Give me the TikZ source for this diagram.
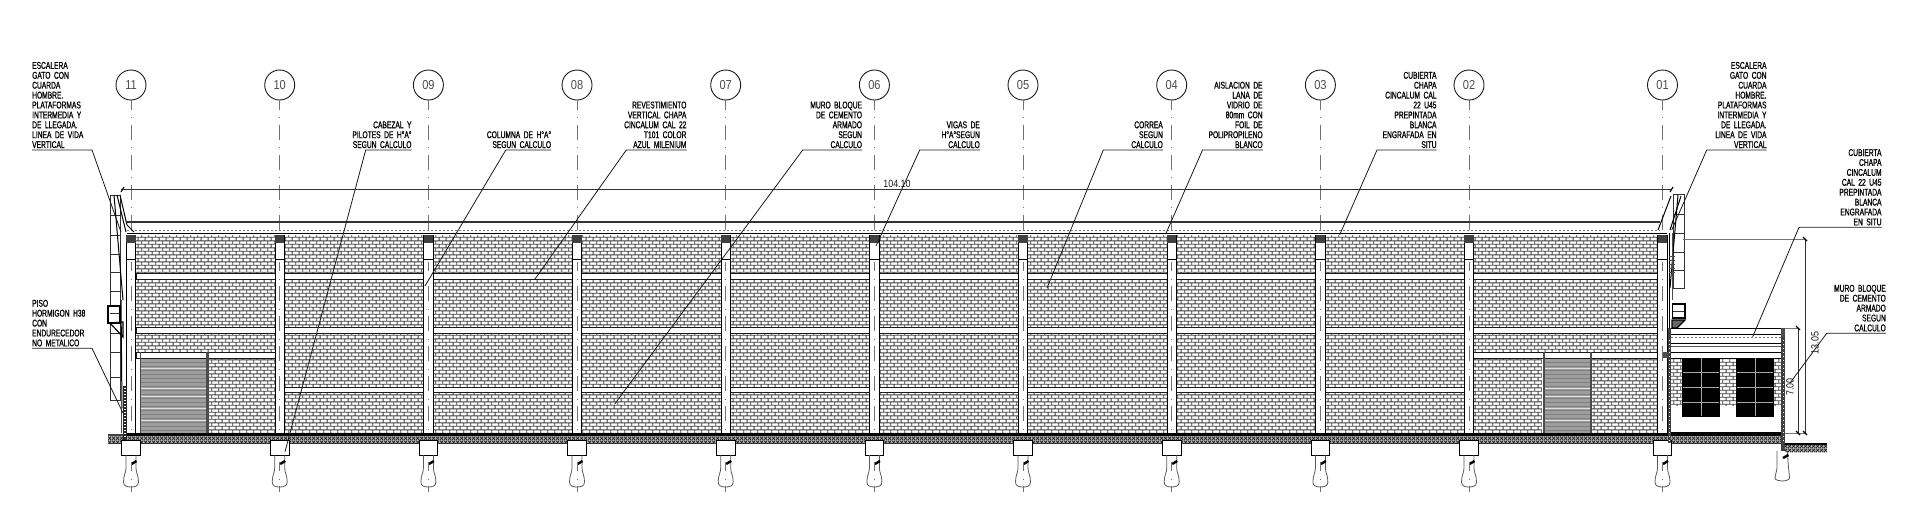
\documentclass[tikz,border=0pt]{standalone}
\usepackage{fontspec}
\usetikzlibrary{patterns}
\newfontfamily\notefont[FakeStretch=0.68,WordSpace=1.9,FakeBold=0.9]{Liberation Sans}
\newfontfamily\axisfont[FakeStretch=0.85]{Liberation Sans}
\pgfdeclarepatternformonly{brickwall}{\pgfpointorigin}{\pgfqpoint{7.4pt}{7.4pt}}{\pgfqpoint{7.4pt}{7.4pt}}{
  \pgfsetlinewidth{0.95pt}
  \pgfpathmoveto{\pgfqpoint{0pt}{1.85pt}}\pgfpathlineto{\pgfqpoint{7.4pt}{1.85pt}}
  \pgfpathmoveto{\pgfqpoint{0pt}{5.55pt}}\pgfpathlineto{\pgfqpoint{7.4pt}{5.55pt}}
  \pgfpathmoveto{\pgfqpoint{1.85pt}{1.85pt}}\pgfpathlineto{\pgfqpoint{1.85pt}{5.55pt}}
  \pgfpathmoveto{\pgfqpoint{5.55pt}{5.55pt}}\pgfpathlineto{\pgfqpoint{5.55pt}{7.4pt}}
  \pgfpathmoveto{\pgfqpoint{5.55pt}{0pt}}\pgfpathlineto{\pgfqpoint{5.55pt}{1.85pt}}
  \pgfusepath{stroke}
}
\pgfdeclarepatternformonly{soilhatch}{\pgfpointorigin}{\pgfqpoint{4pt}{4pt}}{\pgfqpoint{4pt}{4pt}}{
  \pgfsetlinewidth{0.9pt}
  \pgfpathmoveto{\pgfqpoint{0pt}{0pt}}\pgfpathlineto{\pgfqpoint{4pt}{4pt}}
  \pgfpathmoveto{\pgfqpoint{0pt}{4pt}}\pgfpathlineto{\pgfqpoint{4pt}{0pt}}
  \pgfusepath{stroke}
}
\begin{document}
\begin{tikzpicture}[
            x=1pt, y=-1pt,
            axisnum/.style = {shape=circle, draw=black!90, line width=0.9pt, minimum size=30pt, inner sep=0pt, text=black!70, font=\axisfont\fontsize{13}{13}\selectfont},
            axisline/.style = {draw=black!55, line width=0.85pt, dash pattern=on 15pt off 7.5pt on 0.7pt off 6.8pt, dash phase=5.7pt},
            noteR/.style = {align=right, anchor=south east, inner sep=0pt, font=\notefont\fontsize{9.8}{9.9}\selectfont},
            noteL/.style = {align=left, anchor=south west, inner sep=0pt, font=\notefont\fontsize{9.8}{9.9}\selectfont},
            leader/.style = {draw=black!90, line width=0.8pt},
            dimline/.style = {draw=black!80, line width=0.85pt},
            dimtick/.style = {draw=black, line width=1.1pt},
            dimtext/.style = {inner sep=0pt, text=black!90, font=\axisfont\fontsize{10.5}{10.5}\selectfont},
            band/.style = {fill=white, draw=black!90, line width=1pt},
            cage/.style = {draw=black!80, line width=0.75pt},
            rail/.style = {draw=black, line width=1pt},
            pileline/.style = {draw=black!65, line width=0.8pt}
          ]
          \useasboundingbox (0,0) rectangle (1920,523);

          \path[pattern=brickwall, pattern color=black!75] (136,235) rectangle (1658,433);
          \draw[band] (136,273) rectangle (1658,279);
          \draw[band] (136,327) rectangle (1658,333);
          \draw[band] (284,387) rectangle (1465,392);
          \draw[band] (136,352) rectangle (275,358.5);
          \draw[band] (1473,352) rectangle (1658,358.5);

          \fill[white] (136,358.5) rectangle (141,433);
          \fill[black!38] (141,358.5) rectangle (206,433);
          \foreach \y in {362,366,370,374,378,382,386,390,394,398,402,406,410,414,418,422,426,430}
            \draw[black!50, line width=0.6pt] (141,\y) -- (206,\y);
          \foreach \y in {368,388,396,408,420}
            \draw[black!12, line width=0.7pt] (141,\y) -- (206,\y);
          \fill[black!70] (139.5,352) rectangle (141,433);
          \fill[black!70] (206,352) rectangle (208.5,433);

          \fill[white] (1542,358.5) rectangle (1590,433);
          \fill[black!38] (1544,358.5) rectangle (1589.5,433);
          \foreach \y in {362,366,370,374,378,382,386,390,394,398,402,406,410,414,418,422,426,430}
            \draw[black!50, line width=0.6pt] (1544,\y) -- (1589.5,\y);
          \foreach \y in {368,388,396,408,420}
            \draw[black!12, line width=0.7pt] (1544,\y) -- (1589.5,\y);
          \fill[black!70] (1589.5,352) rectangle (1592,433);
          \fill[black!70] (1543,352) rectangle (1544.5,433);

          \fill[black!30] (108,435) rectangle (1782,443);
          \path[pattern=soilhatch, pattern color=black!85] (108,435) rectangle (1782,443);
          \fill[black] (123,432.8) rectangle (1782,435.5);
          \draw[black!80, line width=0.8pt] (108,443) -- (1782,443);
          \fill[black!75] (108,434) rectangle (123,436);

          \foreach \x/\n in {131/11, 279.7/10, 428.4/09, 577/08, 725.7/07, 874.4/06, 1023/05, 1171.7/04, 1320.4/03, 1469/02, 1662.5/01} {
            \fill[white] (\x-4.6,235) rectangle (\x+4.6,433);
            \draw[black, line width=1pt] (\x-4.6,235) -- (\x-4.6,433);
            \draw[black, line width=1pt] (\x+4.6,235) -- (\x+4.6,433);
            \fill[black!75] (\x-4.6,235) rectangle (\x+4.6,243);
            \draw[black, line width=0.9pt] (\x-4.6,259) -- (\x+4.6,259);
            \node[axisnum] (c\n) at (\x,85) {\n};
            \coordinate (a\n) at (\x,230);
            \draw[axisline] (c\n) -- (a\n);
            \draw[axisline] (\x,262) -- (\x,432);
            \draw[black, line width=1pt, fill=white] (\x-9.3,440) rectangle (\x+9.3,455);
            \draw[pileline] (\x-5,455) -- (\x-5,468) .. controls (\x-5,473) and (\x-7.5,475) .. (\x-7.5,482) .. controls (\x-7.5,486) and (\x-4,487) .. (\x,487) .. controls (\x+4,487) and (\x+7.5,486) .. (\x+7.5,482) .. controls (\x+7.5,475) and (\x+5,473) .. (\x+5,468) -- (\x+5,455);
            \draw[black, line width=2.4pt] (\x+0.5,464) -- (\x+5.5,461);
            \draw[axisline] (\x,462) -- (\x,492);
          }

          \draw[draw=black!80, line width=1.6pt] (127,222) -- (1660,222);
          \draw[black!55, line width=0.8pt, dash pattern=on 2pt off 2pt] (127,230.8) -- (1660,230.8);
          \draw[black, line width=1.1pt] (127,233.8) -- (1667,233.8);

          \draw[cage] (110,195) rectangle (120.7,400);
          \foreach \y in {215,235,254,272,291,310,333,352,377,400}
            \draw[cage] (110,\y) -- (120.7,\y);
          \draw[rail] (114,195) -- (123,300);
          \draw[rail] (121,300) -- (122,408);
          \draw[rail] (120,195) -- (127,225) -- (134,232);
          \draw[rail] (117,195) -- (126,232);
          \draw[line width=1.5pt, fill=white] (108,306) rectangle (120,323);
          \draw[cage] (110,313) -- (119,313);
          \draw[line width=1.2pt] (110,323) -- (123,337) -- (123,322) -- cycle;
          \fill[black!85] (123,386) rectangle (127,440);
          \foreach \y in {388,391,...,438}
            \fill[white] (124,\y) rectangle (126,\y+1);
          \draw[black!70, line width=0.7pt] (121,400) -- (121,433);

          \draw[cage] (1673,194) rectangle (1684.3,288);
          \foreach \y in {214,233,252,270}
            \draw[cage] (1673,\y) -- (1684.3,\y);
          \draw[rail] (1658,230) -- (1671,196);
          \draw[rail] (1670,230) -- (1681,196);
          \draw[rail] (1678,195) -- (1670,288);
          \draw[rail] (1669,233) -- (1669,433);
          \draw[black!70, line width=0.6pt] (1672,233) -- (1672,300);
          \foreach \y in {256,260,...,272}
            \draw[black!70, line width=0.6pt] (1669,\y) -- (1675,\y);
          \draw[line width=1.5pt, fill=white] (1672.3,304) rectangle (1685,318);
          \draw[cage] (1673,311) -- (1684,311);
          \draw[line width=1.2pt, fill=black!60] (1672,320) -- (1685,320) -- (1677,328) -- (1672,328) -- cycle;

          \fill[white] (1671,328) rectangle (1782,433);
          \path[pattern=brickwall, pattern color=black!75] (1671,358) rectangle (1782,405);
          \draw[black, line width=1pt] (1671,328) -- (1782,328);
          \draw[black!55, line width=0.7pt, dash pattern=on 2pt off 2pt] (1671,337) -- (1782,337);
          \draw[black, line width=1pt] (1671,334) -- (1782,334);
          \draw[black, line width=1pt] (1671,343) -- (1782,343);
          \draw[black!65, line width=0.7pt] (1671,346.5) -- (1782,346.5);
          \draw[black, line width=1pt] (1671,352) -- (1782,352);
          \draw[black, line width=1pt] (1671,358) -- (1782,358);
          \foreach \x in {1682,1736} {
            \fill[black] (\x,358) rectangle (\x+37.5,417);
            \draw[black!35, line width=0.8pt] (\x+19,358) -- (\x+19,416);
            \foreach \y in {372.7,387.7,402}
              \draw[black!35, line width=0.8pt] (\x+1,\y) -- (\x+36.5,\y);
          }
          \fill[black!70] (1663,352) rectangle (1669,358);
          \fill[black!75] (1668,328) rectangle (1671,443);
          \fill[black!75] (1781,328) rectangle (1785,451);
          \foreach \y in {340,344,...,440} {
            \fill[white] (1669,\y) rectangle (1670,\y+1);
            \fill[white] (1782.5,\y) rectangle (1783.5,\y+1);
          }
          \fill[black!70] (1781,328) rectangle (1785,337);
          \fill[black] (1671,431.8) rectangle (1781,435.5);
          \fill[black!30] (1785,445) rectangle (1827,452);
          \path[pattern=soilhatch, pattern color=black!85] (1785,445) rectangle (1827,452);
          \fill[black] (1785,442.7) rectangle (1827,445.3);
          \draw[pileline] (1777,451) -- (1777,468) .. controls (1776,474) and (1775,476) .. (1775,478) .. controls (1775,480) and (1779,481) .. (1782,481) .. controls (1785,481) and (1789.5,480) .. (1789.5,478) .. controls (1789.5,474) and (1788,468) .. (1787.5,451);
          \draw[black, line width=2.4pt] (1783,458) -- (1788.5,455);

          \coordinate (dimL) at (121,189.7);
          \coordinate (dimR) at (1671.5,189.7);
          \draw[dimline] (dimL) -- (dimR);
          \draw[dimtick] (121,192) -- (124,187);
          \draw[dimtick] (1670,192) -- (1673,187);
          \node[dimtext] (dimlen) at (897,183.7) {104.10};

          \coordinate (dimA) at (1805,239);
          \coordinate (dimB) at (1805,433);
          \coordinate (dimC) at (1798,328);
          \coordinate (dimD) at (1798,433);
          \draw[black!55, line width=0.7pt] (1683,239) -- (dimA);
          \draw[black!55, line width=0.7pt] (1785,328) -- (dimC);
          \draw[black!55, line width=0.7pt] (1785,433) -- (dimB);
          \draw[dimline] (dimA) -- (dimB);
          \draw[dimline] (dimC) -- (dimD);
          \foreach \x/\y in {1805/239, 1805/433, 1798/328, 1798/433}
            \draw[dimtick] (\x-2,\y-2) -- (\x+2,\y+2);
          \node[dimtext, rotate=90] (dimhigh) at (1815,343) {13.05};
          \node[dimtext, rotate=90] (dimlow) at (1790,387) {7.00};

          \foreach \nm/\xr/\xs/\yb/\xt/\yt/\txt in {
              cabezal/411.7/365.7/150/285/451.7/{CABEZAL Y\\PILOTES DE H°A°\\SEGUN CALCULO},
              columna/551.3/505.8/150/425/286/{COLUMNA DE H°A°\\SEGUN CALCULO},
              revest/686.6/626.3/150/535/279/{REVESTIMIENTO\\VERTICAL CHAPA\\CINCALUM CAL 22\\T101 COLOR\\AZUL MILENIUM},
              muro/862.2/802.7/150/614.7/404/{MURO BLOQUE\\DE CEMENTO\\ARMADO\\SEGUN\\CALCULO},
              vigas/980/919.7/150/876/246/{VIGAS DE\\H°A°SEGUN\\CALCULO},
              correa/1163/1103.3/150/1047/288/{CORREA\\SEGUN\\CALCULO},
              aislacion/1262.8/1202.5/150/1165.7/234/{AISLACION DE\\LANA DE\\VIDRIO DE\\80mm CON\\FOIL DE\\POLIPROPILENO\\BLANCO},
              cubierta/1436.7/1377/150/1339.6/235/{CUBIERTA\\CHAPA\\CINCALUM CAL\\22 U45\\PREPINTADA\\BLANCA\\ENGRAFADA EN\\SITU},
              escaleraR/1766.7/1706.7/150/1671.7/230/{ESCALERA\\GATO CON\\CUARDA\\HOMBRE.\\PLATAFORMAS\\INTERMEDIA Y\\DE LLEGADA.\\LINEA DE VIDA\\VERTICAL},
              cubiertaR/1881.7/1799/227.3/1752.7/336.7/{CUBIERTA\\CHAPA\\CINCALUM\\CAL 22 U45\\PREPINTADA\\BLANCA\\ENGRAFADA\\EN SITU},
              muroR/1886/1826.7/333.3/1790/383/{MURO BLOQUE\\DE CEMENTO\\ARMADO\\SEGUN\\CALCULO}} {
            \node[noteR] (\nm) at (\xr,\yb-1.7) {\txt};
            \coordinate (\nm k) at (\xs,\yb);
            \coordinate (\nm e) at (\xr,\yb);
            \coordinate (\nm t) at (\xt,\yt);
            \draw[leader] (\nm e) -- (\nm k) -- (\nm t);
          }

          \foreach \nm/\xl/\xs/\yb/\xt/\yt/\txt in {
              escaleraL/32/92/150/121/232/{ESCALERA\\GATO CON\\CUARDA\\HOMBRE.\\PLATAFORMAS\\INTERMEDIA Y\\DE LLEGADA.\\LINEA DE VIDA\\VERTICAL},
              piso/32/92/348.3/123/413/{PISO\\HORMIGON H38\\CON\\ENDURECEDOR\\NO METALICO}} {
            \node[noteL] (\nm) at (\xl,\yb-1.7) {\txt};
            \coordinate (\nm k) at (\xs,\yb);
            \coordinate (\nm e) at (\xl,\yb);
            \coordinate (\nm t) at (\xt,\yt);
            \draw[leader] (\nm e) -- (\nm k) -- (\nm t);
          }
        \end{tikzpicture}
\end{document}
